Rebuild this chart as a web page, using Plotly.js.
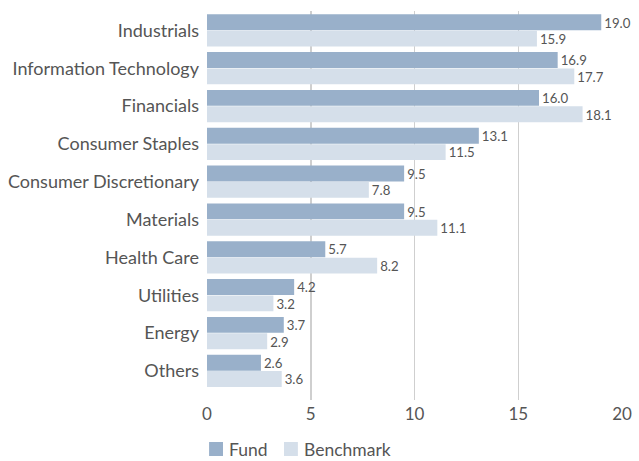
<!DOCTYPE html>
<html><head><meta charset="utf-8">
<script src="https://cdn.plot.ly/plotly-3.0.1.min.js"></script>
<style>body{margin:0;background:#fff}#chart{width:639px;height:461px}</style>
</head><body><div id="chart"></div>
<script>
const categories = ["Industrials","Information Technology","Financials","Consumer Staples","Consumer Discretionary","Materials","Health Care","Utilities","Energy","Others"];
const fund = [19.0,16.9,16.0,13.1,9.5,9.5,5.7,4.2,3.7,2.6];
const benchmark = [15.9,17.7,18.1,11.5,7.8,11.1,8.2,3.2,2.9,3.6];
const xTicks = [0,5,10,15,20];
const seriesNames = ["Fund","Benchmark"];
const seriesColors = ["#99b0ca","#d5dfea"];

const font = "Lato, 'Open Sans', sans-serif";
const mk = (name, vals, color) => ({
  type: 'bar', orientation: 'h', name: name,
  y: categories, x: vals,
  marker: {color: color, line: {width: 0}},
  text: vals.map(v => v.toFixed(1)), textposition: 'outside',
  textfont: {family: font, size: 15, color: '#555'},
  cliponaxis: false, hoverinfo: 'skip', showlegend: false
});
const data = [mk(seriesNames[0], fund, seriesColors[0]), mk(seriesNames[1], benchmark, seriesColors[1])];

// custom legend (square swatch + label) below the axis
const shapes = [], annotations = [];
const legendX = [[0.005, 0.0386, 0.048], [0.1855, 0.219, 0.229]];
seriesNames.forEach((n, i) => {
  shapes.push({type: 'rect', xref: 'paper', yref: 'paper', x0: legendX[i][0], x1: legendX[i][1],
               y0: -0.108, y1: -0.144, fillcolor: seriesColors[i], line: {width: 0}});
  annotations.push({xref: 'paper', yref: 'paper', x: legendX[i][2], y: -0.126, xanchor: 'left', yanchor: 'middle',
                    text: n, showarrow: false, font: {family: font, size: 17.5, color: '#555'}});
});

const layout = {
  width: 639, height: 461,
  margin: {l: 207, r: 17, t: 11, b: 61},
  barmode: 'group', bargap: 0.135, bargroupgap: 0.03,
  paper_bgcolor: '#fff', plot_bgcolor: '#fff',
  font: {family: font, color: '#555', size: 18},
  xaxis: {range: [0, 20], tickvals: xTicks, showgrid: true, gridcolor: '#cfcfcf', gridwidth: 1.5,
          zeroline: false, showline: false, ticks: '', ticklabelstandoff: 2,
          tickfont: {size: 17, color: '#555'}, fixedrange: true},
  yaxis: {range: [9.77, -0.513], showgrid: false, zeroline: false, showline: false, ticks: '',
          ticklabelstandoff: 7, tickfont: {size: 18, color: '#555'}, fixedrange: true},
  shapes: shapes, annotations: annotations,
  showlegend: false
};
Plotly.newPlot('chart', data, layout, {displayModeBar: false, staticPlot: true});
</script></body></html>
